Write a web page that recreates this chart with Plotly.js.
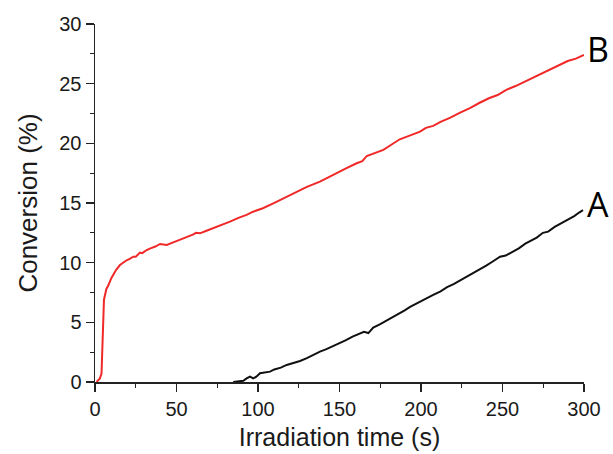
<!DOCTYPE html>
<html>
<head>
<meta charset="utf-8">
<script src="https://cdn.plot.ly/plotly-3.0.1.min.js"></script>
<style>html,body{margin:0;padding:0;background:#fff;}#chart{width:613px;height:454px;}</style>
</head>
<body>
<div id="chart"></div>
<script>
// Curve B (red)
const timeB = [1,3,4,4.8,5.5,7,8.2,10,11.2,13,15.3,17,19.4,21,23.5,25,27.6,29,31.7,34,37,39.9,42,44,48,52,56,60,62,64.4,68,72.6,77,82.8,88,93,97,103,109.4,116,123.7,130,138,143,148.3,154,160.5,164,166.7,172,176.9,182,187,193,199.4,203,207.5,212,218,224,230,236,242,247,252.6,258,264.8,270,276,281,286,290,295,300];
const convB = [0,0.3,0.7,4,6.9,7.8,8.1,8.7,9.0,9.4,9.8,10.0,10.2,10.3,10.5,10.5,10.84,10.8,11.06,11.2,11.35,11.57,11.5,11.48,11.7,11.9,12.1,12.35,12.5,12.46,12.65,12.88,13.15,13.44,13.75,14.0,14.27,14.56,14.97,15.4,15.95,16.35,16.79,17.15,17.49,17.9,18.33,18.5,18.94,19.2,19.45,19.9,20.34,20.65,20.98,21.3,21.46,21.8,22.15,22.58,22.95,23.4,23.8,24.05,24.5,24.8,25.26,25.6,26.0,26.3,26.65,26.9,27.1,27.4];
// Curve A (black)
const timeA = [84.8,88,91,93,95.1,97.1,99,101.2,104,107.4,110,114,117.6,121,125.8,130,134,138,142,146,150.3,154,158,162.6,165,167.7,170.7,175,179,182.8,187,190,193.3,196,199.4,203,207.5,212,216,220,224,228,232,236,240,244,248.5,252,256.4,260,264,268,271,274.8,278,282,286,290,294,297,299.4];
const convA = [0,0.05,0.1,0.3,0.45,0.3,0.45,0.73,0.8,0.87,1.05,1.2,1.43,1.55,1.76,2.0,2.3,2.55,2.75,3.0,3.25,3.5,3.8,4.1,4.2,4.1,4.56,4.85,5.15,5.5,5.77,6.0,6.3,6.5,6.75,7.0,7.3,7.6,7.95,8.2,8.5,8.85,9.1,9.45,9.75,10.1,10.5,10.6,10.95,11.2,11.6,11.9,12.1,12.5,12.6,13.0,13.3,13.6,13.9,14.2,14.4];
const seriesLabels = ['B','A'];
const xTitle = 'Irradiation time (s)';
const yTitle = 'Conversion (%)';

const font = 'Liberation Sans, Arial, sans-serif';
const traces = [
  {x: timeB, y: convB, mode: 'lines', line: {color: '#f02828', width: 2}, name: seriesLabels[0], hoverinfo: 'none'},
  {x: timeA, y: convA, mode: 'lines', line: {color: '#101010', width: 2}, name: seriesLabels[1], hoverinfo: 'none'}
];
const layout = {
  width: 613, height: 454,
  margin: {l: 95, r: 29, t: 24, b: 72},
  paper_bgcolor: '#fff', plot_bgcolor: '#fff',
  showlegend: false,
  font: {family: font, color: '#1a1a1a'},
  xaxis: {
    range: [0, 300], tickvals: [0,50,100,150,200,250,300],
    showgrid: false, zeroline: false, showline: true, linecolor: '#222', linewidth: 1.5,
    ticks: 'outside', ticklen: 8, tickwidth: 1.5, tickcolor: '#222',
    minor: {ticks: 'outside', ticklen: 4, tickwidth: 1.2, tickcolor: '#222', dtick: 25, showgrid: false},
    tickfont: {size: 20, family: font, color: '#1a1a1a'},
    title: {text: xTitle, font: {size: 25, family: font, color: '#1a1a1a'}, standoff: 10}
  },
  yaxis: {
    range: [0, 30], tickvals: [0,5,10,15,20,25,30],
    showgrid: false, zeroline: false, showline: true, linecolor: '#222', linewidth: 1.5,
    ticks: 'outside', ticklen: 8, tickwidth: 1.5, tickcolor: '#222',
    minor: {ticks: 'outside', ticklen: 4, tickwidth: 1.2, tickcolor: '#222', dtick: 2.5, showgrid: false},
    tickfont: {size: 20, family: font, color: '#1a1a1a'},
    title: {text: yTitle, font: {size: 26, family: font, color: '#1a1a1a'}, standoff: 14}
  },
  annotations: [
    {x: 1, xref: 'paper', xanchor: 'left', xshift: 1, y: convB[convB.length-1], yref: 'y', yanchor: 'middle', yshift: 6,
     text: seriesLabels[0], showarrow: false, font: {size: 34, family: 'Open Sans, sans-serif', color: '#000'}},
    {x: 1, xref: 'paper', xanchor: 'left', xshift: 1, y: convA[convA.length-1], yref: 'y', yanchor: 'middle', yshift: 6,
     text: seriesLabels[1], showarrow: false, font: {size: 34, family: 'Open Sans, sans-serif', color: '#000'}}
  ]
};
Plotly.newPlot('chart', traces, layout, {staticPlot: true, displayModeBar: false});
</script>
</body>
</html>
